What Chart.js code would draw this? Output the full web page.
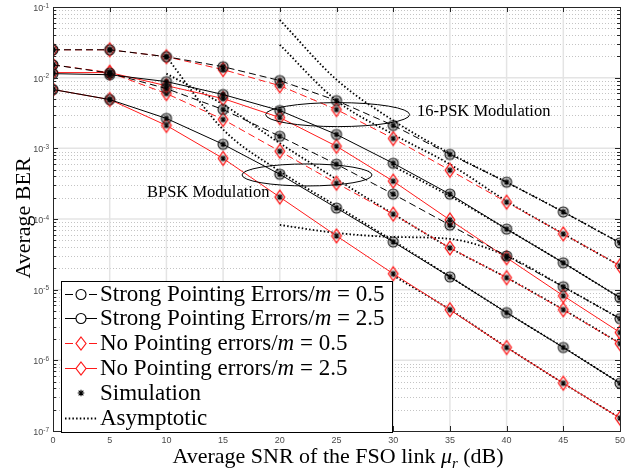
<!DOCTYPE html>
<html>
<head>
<meta charset="utf-8">
<script src="https://cdn.jsdelivr.net/npm/chart.js@4.4.1/dist/chart.umd.min.js"></script>
<style>
  html, body { margin: 0; padding: 0; background: #ffffff; }
  #wrap { width: 639px; height: 474px; position: relative; }
</style>
</head>
<body>
<div id="wrap"><canvas id="ber"></canvas></div>
<script>
// Average SNR of the FSO link (dB)
const snr = [0, 5, 10, 15, 20, 25, 30, 35, 40, 45, 50];

// 16-PSK, simulated / analytical BER
const psk16StrongM05 = [2.48e-2, 2.48e-2, 1.98e-2, 1.43e-2, 9.1e-3, 4.74e-3, 2.11e-3, 8.2e-4, 3.32e-4, 1.26e-4, 4.6e-5];
const psk16NoneM05   = [2.48e-2, 2.48e-2, 1.98e-2, 1.30e-2, 7.7e-3, 3.54e-3, 1.38e-3, 4.9e-4, 1.73e-4, 6.15e-5, 2.18e-5];
const psk16StrongM25 = [1.14e-2, 1.10e-2, 8.8e-3, 5.77e-3, 3.43e-3, 1.57e-3, 6.15e-4, 2.25e-4, 7.2e-5, 2.4e-5, 7.7e-6];
const psk16NoneM25   = [1.18e-2, 1.18e-2, 7.7e-3, 5.06e-3, 2.73e-3, 1.07e-3, 3.43e-4, 9.7e-5, 2.83e-5, 8.2e-6, 2.48e-6];

// BPSK, simulated / analytical BER
const bpskStrongM05 = [1.52e-2, 1.16e-2, 7.0e-3, 3.54e-3, 1.48e-3, 5.96e-4, 2.25e-4, 8.2e-5, 3.0e-5, 1.10e-5, 3.9e-6];
const bpskNoneM05   = [1.52e-2, 1.18e-2, 5.96e-3, 2.56e-3, 9.1e-4, 3.21e-4, 1.17e-4, 3.9e-5, 1.48e-5, 5.2e-6, 1.73e-6];
const bpskStrongM25 = [6.8e-3, 4.9e-3, 2.65e-3, 1.14e-3, 4.3e-4, 1.43e-4, 4.74e-5, 1.52e-5, 4.74e-6, 1.52e-6, 4.74e-7];
const bpskNoneM25   = [6.8e-3, 4.9e-3, 2.11e-3, 7.2e-4, 2.04e-4, 5.77e-5, 1.68e-5, 5.2e-6, 1.52e-6, 4.74e-7, 1.52e-7];

// Asymptotic (high-SNR) approximations
const asymSnrFrom10 = [10, 15, 20, 25, 30, 35, 40, 45, 50];
const asymSnrFrom20 = [20, 25, 30, 35, 40, 45, 50];
const asymSnrFrom30 = [30, 35, 40, 45, 50];
const asymPsk16StrongM05 = [6.56e-2, 9.37e-3, 2.48e-3, 8.5e-4, 3.32e-4, 1.26e-4, 4.59e-5];
const asymPsk16NoneM05   = [2.92e-2, 4.74e-3, 1.58e-3, 5.95e-4, 1.79e-4, 6.15e-5, 2.18e-5];
const asymPsk16StrongM25 = [5.58e-4, 2.11e-4, 7.23e-5, 2.40e-5, 7.71e-6];
const asymBpskStrongM05  = [8.23e-5, 6.35e-5, 5.58e-5, 5.23e-5, 3.01e-5, 1.10e-5, 3.90e-6];
const asymBpskNoneM05    = [1.14e-2, 4.17e-3, 1.18e-3, 3.66e-4, 1.18e-4, 3.90e-5, 1.48e-5, 5.23e-6, 1.74e-6];
const asymBpskStrongM25  = [1.98e-2, 1.85e-3, 4.74e-4, 1.53e-4, 4.90e-5, 1.53e-5, 4.74e-6, 1.53e-6, 4.74e-7];
const asymBpskNoneM25    = [1.58e-5, 5.23e-6, 1.53e-6, 4.74e-7, 1.53e-7];

// Axis ticks
const xTicks = [0, 5, 10, 15, 20, 25, 30, 35, 40, 45, 50];
const yDecades = [-7, -6, -5, -4, -3, -2, -1];

// Legend entries
const legendLabels = [
  ['Strong Pointing Errors/', 'm', ' = 0.5'],
  ['Strong Pointing Errors/', 'm', ' = 2.5'],
  ['No Pointing errors/', 'm', ' = 0.5'],
  ['No Pointing errors/', 'm', ' = 2.5'],
  ['Simulation'],
  ['Asymptotic']
];

const SERIF = '"Liberation Serif", "Times New Roman", serif';
const SANS = '"Liberation Sans", Arial, sans-serif';
const RED = '#ff1a1a';

function drawAsterisk(ctx, cx, cy, r) {
  ctx.save();
  ctx.strokeStyle = '#000';
  ctx.lineWidth = 1.1;
  ctx.beginPath();
  ctx.moveTo(cx - r, cy); ctx.lineTo(cx + r, cy);
  ctx.moveTo(cx, cy - r); ctx.lineTo(cx, cy + r);
  const d = r * 0.72;
  ctx.moveTo(cx - d, cy - d); ctx.lineTo(cx + d, cy + d);
  ctx.moveTo(cx - d, cy + d); ctx.lineTo(cx + d, cy - d);
  ctx.stroke();
  ctx.restore();
}

function drawCircleMark(ctx, cx, cy, r) {
  ctx.save();
  ctx.beginPath();
  ctx.arc(cx, cy, r, 0, Math.PI * 2);
  ctx.fillStyle = 'rgba(0,0,0,0.18)';
  ctx.fill();
  ctx.strokeStyle = '#111';
  ctx.lineWidth = 1.1;
  ctx.stroke();
  ctx.restore();
}

function drawDiamondMark(ctx, cx, cy, hw, hh) {
  ctx.save();
  ctx.beginPath();
  ctx.moveTo(cx, cy - hh);
  ctx.lineTo(cx + hw, cy);
  ctx.lineTo(cx, cy + hh);
  ctx.lineTo(cx - hw, cy);
  ctx.closePath();
  ctx.fillStyle = 'rgba(255,255,255,0.6)';
  ctx.fill();
  ctx.strokeStyle = RED;
  ctx.lineWidth = 1.3;
  ctx.stroke();
  ctx.restore();
}

// Point images: marker with the simulation asterisk on top
function makePointImage(kind) {
  const c = document.createElement('canvas');
  c.width = 18; c.height = 18;
  const g = c.getContext('2d');
  if (kind === 'circle') drawCircleMark(g, 9, 9, 5);
  else drawDiamondMark(g, 9, 9, 4.8, 6.8);
  drawAsterisk(g, 9, 9, 3.2);
  return c;
}
const circleImg = makePointImage('circle');
const diamondImg = makePointImage('diamond');

function pairs(xs, ys) { return xs.map((x, i) => ({ x: x, y: ys[i] })); }

function seriesDataset(values, color, dashed, img) {
  return {
    data: pairs(snr, values),
    borderColor: color,
    borderWidth: 1,
    borderDash: dashed ? [7, 4] : [],
    pointStyle: img,
    pointRadius: 6,
    pointHoverRadius: 6,
    fill: false,
    tension: 0
  };
}

function asymDataset(xs, values) {
  return {
    data: pairs(xs, values),
    borderColor: '#000',
    borderWidth: 1.8,
    borderDash: [1.5, 2.2],
    pointRadius: 0,
    pointHoverRadius: 0,
    fill: false,
    cubicInterpolationMode: 'monotone'
  };
}

const datasets = [
  seriesDataset(psk16StrongM05, '#000', true, circleImg),
  seriesDataset(psk16StrongM25, '#000', false, circleImg),
  seriesDataset(bpskStrongM05, '#000', true, circleImg),
  seriesDataset(bpskStrongM25, '#000', false, circleImg),
  seriesDataset(psk16NoneM05, RED, true, diamondImg),
  seriesDataset(psk16NoneM25, RED, false, diamondImg),
  seriesDataset(bpskNoneM05, RED, true, diamondImg),
  seriesDataset(bpskNoneM25, RED, false, diamondImg),
  asymDataset(asymSnrFrom20, asymPsk16StrongM05),
  asymDataset(asymSnrFrom20, asymPsk16NoneM05),
  asymDataset(asymSnrFrom30, asymPsk16StrongM25),
  asymDataset(asymSnrFrom20, asymBpskStrongM05),
  asymDataset(asymSnrFrom10, asymBpskNoneM05),
  asymDataset(asymSnrFrom10, asymBpskStrongM25),
  asymDataset(asymSnrFrom30, asymBpskNoneM25)
];

// Grid lines beneath the curves
const gridPlugin = {
  id: 'matlabGrid',
  beforeDatasetsDraw(chart) {
    const { ctx, chartArea: a, scales: { x, y } } = chart;
    ctx.save();
    // minor log grid (dotted)
    ctx.strokeStyle = '#c4c4c4';
    ctx.lineWidth = 1;
    ctx.setLineDash([1, 2]);
    for (const d of yDecades) {
      if (d === -1) continue;
      for (let k = 2; k <= 9; k++) {
        const py = Math.round(y.getPixelForValue(k * Math.pow(10, d))) + 0.5;
        ctx.beginPath(); ctx.moveTo(a.left, py); ctx.lineTo(a.right, py); ctx.stroke();
      }
    }
    ctx.setLineDash([]);
    // major grid
    ctx.strokeStyle = '#e4e4e4';
    ctx.lineWidth = 1.5;
    for (const t of xTicks) {
      if (t === 0 || t === 50) continue;
      const px = x.getPixelForValue(t);
      ctx.beginPath(); ctx.moveTo(px, a.top); ctx.lineTo(px, a.bottom); ctx.stroke();
    }
    for (const d of yDecades) {
      if (d === -1 || d === -7) continue;
      const py = y.getPixelForValue(Math.pow(10, d));
      ctx.beginPath(); ctx.moveTo(a.left, py); ctx.lineTo(a.right, py); ctx.stroke();
    }
    ctx.restore();
  }
};

function drawRich(ctx, parts, x, yb, size) {
  // parts: [text, style] where style is 'n', 'i', or 'sub'
  let cx = x;
  for (const [t, s] of parts) {
    if (s === 'sub') {
      ctx.font = 'italic ' + Math.round(size * 0.7) + 'px ' + SERIF;
      ctx.fillText(t, cx, yb + size * 0.22);
    } else {
      ctx.font = (s === 'i' ? 'italic ' : '') + size + 'px ' + SERIF;
      ctx.fillText(t, cx, yb);
    }
    cx += ctx.measureText(t).width;
  }
  return cx - x;
}

function measureRich(ctx, parts, size) {
  let w = 0;
  for (const [t, s] of parts) {
    if (s === 'sub') ctx.font = 'italic ' + Math.round(size * 0.7) + 'px ' + SERIF;
    else ctx.font = (s === 'i' ? 'italic ' : '') + size + 'px ' + SERIF;
    w += ctx.measureText(t).width;
  }
  return w;
}

// Axes box, ticks, labels, annotations and legend
const decorPlugin = {
  id: 'matlabDecor',
  afterDatasetsDraw(chart) {
    const { ctx, chartArea: a, scales: { x, y } } = chart;
    ctx.save();

    // ellipses grouping the modulation families
    ctx.strokeStyle = '#000';
    ctx.lineWidth = 1;
    ctx.beginPath();
    ctx.ellipse(x.getPixelForValue(25.1), y.getPixelForValue(3.0e-3), 72, 12, 0, 0, Math.PI * 2);
    ctx.stroke();
    ctx.beginPath();
    ctx.ellipse(x.getPixelForValue(22.4), y.getPixelForValue(4.2e-4), 65, 11, 0, 0, Math.PI * 2);
    ctx.stroke();

    ctx.fillStyle = '#000';
    ctx.textBaseline = 'alphabetic';
    ctx.textAlign = 'left';
    ctx.font = '16.5px ' + SERIF;
    ctx.fillText('16-PSK Modulation', 417, 116);
    ctx.fillText('BPSK Modulation', 147, 197);

    // axes box
    ctx.strokeStyle = '#262626';
    ctx.lineWidth = 1;
    ctx.strokeRect(Math.round(a.left) + 0.5, Math.round(a.top) + 0.5,
                   Math.round(a.right - a.left), Math.round(a.bottom - a.top));

    // inward tick marks
    ctx.beginPath();
    for (const t of xTicks) {
      const px = Math.round(x.getPixelForValue(t)) + 0.5;
      ctx.moveTo(px, a.bottom); ctx.lineTo(px, a.bottom - 5);
      ctx.moveTo(px, a.top); ctx.lineTo(px, a.top + 5);
    }
    for (const d of yDecades) {
      const py = Math.round(y.getPixelForValue(Math.pow(10, d))) + 0.5;
      ctx.moveTo(a.left, py); ctx.lineTo(a.left + 5, py);
      ctx.moveTo(a.right, py); ctx.lineTo(a.right - 5, py);
      if (d === -1) continue;
      for (let k = 2; k <= 9; k++) {
        const pm = Math.round(y.getPixelForValue(k * Math.pow(10, d))) + 0.5;
        ctx.moveTo(a.left, pm); ctx.lineTo(a.left + 3, pm);
        ctx.moveTo(a.right, pm); ctx.lineTo(a.right - 3, pm);
      }
    }
    ctx.stroke();

    // tick labels
    ctx.fillStyle = '#4a4a4a';
    ctx.font = '9px ' + SANS;
    ctx.textAlign = 'center';
    for (const t of xTicks) {
      ctx.fillText(String(t), x.getPixelForValue(t), a.bottom + 12);
    }
    for (const d of yDecades) {
      const py = y.getPixelForValue(Math.pow(10, d));
      const exp = '-' + Math.abs(d);
      ctx.font = '6.5px ' + SANS;
      const ew = ctx.measureText(exp).width;
      ctx.textAlign = 'left';
      ctx.fillText(exp, a.left - 4 - ew, py + 0.5);
      ctx.font = '9px ' + SANS;
      ctx.textAlign = 'right';
      ctx.fillText('10', a.left - 4 - ew, py + 4);
    }

    // axis titles
    ctx.fillStyle = '#000';
    ctx.textAlign = 'left';
    const xt = [['Average SNR of the FSO link ', 'n'], ['\u03bc', 'i'], ['r', 'sub'], [' (dB)', 'n']];
    const xw = measureRich(ctx, xt, 22);
    drawRich(ctx, xt, 338 - xw / 2, 463, 22);

    ctx.save();
    ctx.translate(30, 218);
    ctx.rotate(-Math.PI / 2);
    ctx.font = '22px ' + SERIF;
    ctx.textAlign = 'center';
    ctx.fillText('Average BER', 0, 0);
    ctx.restore();

    // legend
    const lx = 61, ly = 281, lw = 331, lh = 151;
    ctx.fillStyle = '#fff';
    ctx.fillRect(lx, ly, lw, lh);
    ctx.strokeStyle = '#000';
    ctx.lineWidth = 1;
    ctx.strokeRect(lx + 0.5, ly + 0.5, lw, lh);

    const rows = [294, 318, 343, 368, 393, 418];
    const x0 = 65, x1 = 97, xm = 81;
    rows.forEach((ry, i) => {
      ctx.save();
      if (i < 4) {
        const color = i < 2 ? '#000' : RED;
        const dashed = i % 2 === 0;
        ctx.strokeStyle = color;
        ctx.lineWidth = 1;
        ctx.beginPath();
        if (dashed) {
          ctx.moveTo(x0, ry + 0.5); ctx.lineTo(x0 + 8, ry + 0.5);
          ctx.moveTo(x1 - 8, ry + 0.5); ctx.lineTo(x1, ry + 0.5);
        } else {
          ctx.moveTo(x0, ry + 0.5); ctx.lineTo(x1, ry + 0.5);
        }
        ctx.stroke();
        if (i < 2) {
          ctx.beginPath();
          ctx.arc(xm, ry + 0.5, 5, 0, Math.PI * 2);
          ctx.fillStyle = '#fff';
          ctx.fill();
          ctx.strokeStyle = '#000';
          ctx.lineWidth = 1.1;
          ctx.stroke();
        } else {
          ctx.beginPath();
          ctx.moveTo(xm, ry - 6); ctx.lineTo(xm + 5, ry + 0.5);
          ctx.lineTo(xm, ry + 7); ctx.lineTo(xm - 5, ry + 0.5);
          ctx.closePath();
          ctx.fillStyle = '#fff';
          ctx.fill();
          ctx.strokeStyle = RED;
          ctx.lineWidth = 1.2;
          ctx.stroke();
        }
      } else if (i === 4) {
        drawAsterisk(ctx, xm, ry, 3.3);
      } else {
        ctx.strokeStyle = '#000';
        ctx.lineWidth = 1.8;
        ctx.setLineDash([1.5, 2.2]);
        ctx.beginPath();
        ctx.moveTo(x0, ry + 0.5); ctx.lineTo(x1, ry + 0.5);
        ctx.stroke();
      }
      ctx.restore();
      const lab = legendLabels[i];
      const parts = lab.length === 3 ? [[lab[0], 'n'], [lab[1], 'i'], [lab[2], 'n']] : [[lab[0], 'n']];
      ctx.fillStyle = '#000';
      ctx.textAlign = 'left';
      drawRich(ctx, parts, 100, ry + 7, 23);
    });

    ctx.restore();
  }
};

new Chart(document.getElementById('ber'), {
  type: 'line',
  data: { datasets: datasets },
  options: {
    responsive: true,
    maintainAspectRatio: false,
    animation: false,
    layout: { padding: { left: 53, right: 19, top: 5, bottom: 43 } },
    plugins: { legend: { display: false }, tooltip: { enabled: false } },
    scales: {
      x: { type: 'linear', min: 0, max: 50, display: false },
      y: { type: 'logarithmic', min: 1e-7, max: 1e-1, display: false }
    }
  },
  plugins: [gridPlugin, decorPlugin]
});
</script>
</body>
</html>
